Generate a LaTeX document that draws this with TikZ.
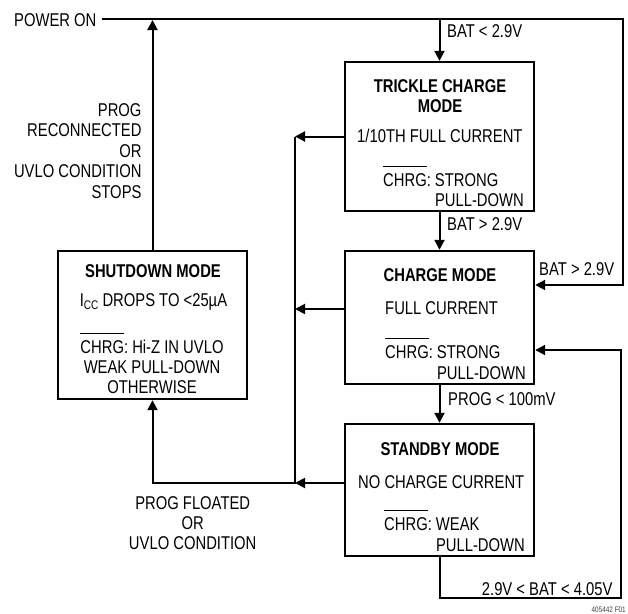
\documentclass[tikz,border=0pt]{standalone}
\usepackage{fontspec}
\setmainfont{Liberation Sans}[FakeStretch=0.8]
\usepackage{tikz}
\usetikzlibrary{arrows.meta,positioning,calc}
\frenchspacing

\newcommand{\ovbar}[1]{\leavevmode\setbox0\hbox{#1}\rlap{\rule[\dimexpr\ht0+6.5pt\relax]{\wd0}{1pt}}\box0}

\begin{document}
\begin{tikzpicture}[
  x=1pt, y=-1pt,
  font=\fontsize{18.5}{20.4}\selectfont,
  mode/.style={draw, line width=2.4pt, minimum width=189pt, inner sep=0pt},
  title/.style={font=\fontsize{18.5}{20.4}\selectfont\bfseries, anchor=base, inner sep=0pt},
  txt/.style={anchor=base west, inner sep=0pt},
  multi/.style={inner sep=0pt, align=left},
  arrow/.style={-{Triangle[length=10pt, width=10pt]}, line width=2pt},
  wire/.style={line width=2pt}
]
\useasboundingbox (0,0) rectangle (628,613);

% state boxes
\node[mode, minimum height=149pt] (trickle) at (439.5,136.5) {};
\node[mode, minimum height=133pt] (charge) at (439.5,317.5) {};
\node[mode, minimum height=132pt] (standby) at (439.5,490) {};
\node[mode, minimum height=148pt] (shutdown) at (152.5,325) {};

% box texts
\node[title] (tctitle) at (440,92.3) {TRICKLE CHARGE};
\node[title] (tctitle2) at (440,112.3) {MODE};
\node[txt] (tccur) at (357,142.5) {1/10TH FULL CURRENT};
\node[multi, anchor=north west] (tcchrg) at (383,165.7) {\ovbar{CHRG}: STRONG\\\phantom{CHRG: }PULL-DOWN};

\node[title] (chtitle) at (440,281) {CHARGE MODE};
\node[txt] (chcur) at (385,314) {FULL CURRENT};
\node[multi, anchor=north west] (chchrg) at (385,338) {\ovbar{CHRG}: STRONG\\\phantom{CHRG: }PULL-DOWN};

\node[title] (sbtitle) at (440,455) {STANDBY MODE};
\node[txt] (sbcur) at (358,488) {NO CHARGE CURRENT};
\node[multi, anchor=north west] (sbchrg) at (384,510) {\ovbar{CHRG}: WEAK\\\phantom{CHRG: }PULL-DOWN};

\node[title] (sdtitle) at (153,277) {SHUTDOWN MODE};
\node[anchor=base, inner sep=0pt] (sdicc) at (153.5,306) {I\raisebox{-3.3pt}{\fontsize{12.5}{12.5}\selectfont CC} DROPS TO <25µA};
\node[multi, align=center, anchor=north] (sdchrg) at (152,332.5) {\ovbar{CHRG}: Hi-Z IN UVLO\\WEAK PULL-DOWN\\OTHERWISE};

% outside labels
\node[anchor=base west, inner sep=0pt] (power) at (14,26) {POWER ON};
\node[txt] (lbat1) at (447,37.3) {BAT < 2.9V};
\node[txt] (lbat2) at (447,230.5) {BAT > 2.9V};
\node[txt] (lbat3) at (539,275) {BAT > 2.9V};
\node[txt] (lprog) at (448,405.7) {PROG < 100mV};
\node[txt] (lrange) at (481.7,595) {2.9V < BAT < 4.05V};
\node[multi, align=right, anchor=north east] (lrecon) at (141.7,103.3) {PROG\\RECONNECTED\\OR\\UVLO CONDITION\\STOPS};
\node[multi, align=center, anchor=north] (lfloat) at (192.7,496) {PROG FLOATED\\OR\\UVLO CONDITION};
\node[anchor=base east, inner sep=0pt, font=\fontsize{8}{8}\selectfont, text=black!75] (fig) at (626,612) {405442 F01};

% bends
\coordinate (topright) at (623,19);
\coordinate (pwrline) at (152.5,20);
\coordinate (bustop) at (295,136.5);
\coordinate (busbot) at (295,483);
\coordinate (loopbr) at (621,598);

% connectors
\draw[arrow] ([xshift=5pt]power.east |- topright) -- (topright) |- ([yshift=32.5pt]charge.east);
\draw[arrow] (trickle.north |- topright) -- (trickle.north);
\draw[arrow] (trickle.south) -- (charge.north);
\draw[arrow] (charge.south) -- (standby.north);
\draw[arrow] (standby.south) |- (loopbr) |- ([yshift=-32.5pt]charge.east);
\draw[arrow] (shutdown.north) -- (pwrline);
\draw[arrow] (trickle.west) -- (bustop);
\draw[arrow] ([yshift=8.5pt]charge.west) -- ([yshift=8.5pt]charge.west -| bustop);
\draw[arrow] ([yshift=7pt]standby.west) -- (busbot);
\draw[arrow] (bustop) -- (busbot) -| (shutdown.south);

\end{tikzpicture}
\end{document}
